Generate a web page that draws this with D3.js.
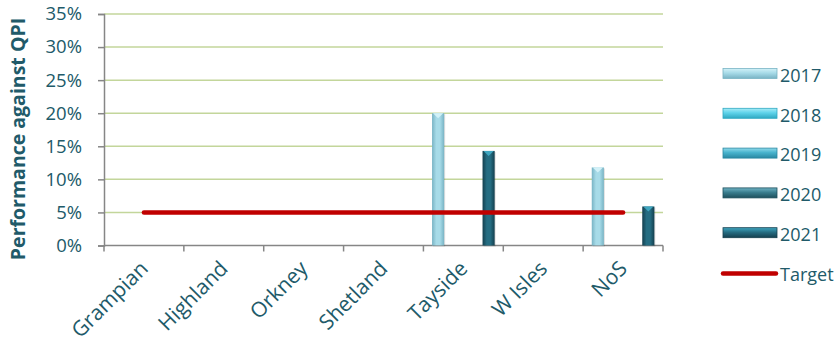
<!DOCTYPE html>
<html>
<head>
<meta charset="utf-8">
<script src="https://cdn.jsdelivr.net/npm/d3@7"></script>
<style>
  html, body { margin: 0; padding: 0; background: #ffffff; }
  svg { display: block; }
  text { font-family: "Open Sans", "DejaVu Sans", sans-serif; fill: #215a69; }
</style>
</head>
<body>
<svg id="chart" width="837" height="345"></svg>
<script>
// Boards and years shown on the chart
const categories = ["Grampian", "Highland", "Orkney", "Shetland", "Tayside", "W Isles", "NoS"];
const years = ["2017", "2018", "2019", "2020", "2021"];

// Performance against the QPI (%), one array per year; null = no value
const values2017 = [null, null, null, null, 20.0, null, 11.8];
const values2018 = [null, null, null, null, null, null, null];
const values2019 = [null, null, null, null, null, null, null];
const values2020 = [null, null, null, null, null, null, null];
const values2021 = [null, null, null, null, 14.3, null, 5.9];
const targetValue = 5;

const yTicks = [0, 5, 10, 15, 20, 25, 30, 35];
const yTitle = "Performance against QPI";
const targetLabel = "Target";

const seriesValues = [values2017, values2018, values2019, values2020, values2021];

// Bar fill colours per year: [edge, centre, top highlight]
const barColours = {
  "2017": ["#78b3c4", "#a7dbe8", "#d2f1f8"],
  "2018": ["#2fa8c2", "#5fd3ea", "#a8ecf7"],
  "2019": ["#2a88a2", "#48b3cd", "#8fdaeb"],
  "2020": ["#1d4f5c", "#3a7d8e", "#6fb3c4"],
  "2021": ["#143f4e", "#256d82", "#3fa6c0"]
};

const svg = d3.select("#chart");
const defs = svg.append("defs");

const margin = { left: 104, right: 663, top: 14, bottom: 245.5 };

const x0 = d3.scaleBand().domain(categories).range([margin.left, margin.right]).padding(0);
const bw = x0.bandwidth();
const x1 = d3.scaleBand().domain(years).range([bw * 0.108, bw * 0.892]).paddingInner(0.04);
const y = d3.scaleLinear().domain([0, 35]).range([margin.bottom, margin.top]);

// Gradients for the bars (horizontal shading) and legend swatches (vertical)
years.forEach(yr => {
  const c = barColours[yr];
  const g = defs.append("linearGradient").attr("id", "bar" + yr)
    .attr("x1", "0%").attr("x2", "100%").attr("y1", "0%").attr("y2", "0%");
  g.append("stop").attr("offset", "0%").attr("stop-color", c[0]);
  g.append("stop").attr("offset", "35%").attr("stop-color", c[1]);
  g.append("stop").attr("offset", "65%").attr("stop-color", c[1]);
  g.append("stop").attr("offset", "100%").attr("stop-color", c[0]);
  const s = defs.append("linearGradient").attr("id", "sw" + yr)
    .attr("x1", "0%").attr("x2", "0%").attr("y1", "0%").attr("y2", "100%");
  s.append("stop").attr("offset", "0%").attr("stop-color", c[2]);
  s.append("stop").attr("offset", "45%").attr("stop-color", c[1]);
  s.append("stop").attr("offset", "100%").attr("stop-color", c[0]);
});

// Gridlines
svg.append("g").selectAll("line")
  .data(yTicks.filter(d => d > 0))
  .join("line")
  .attr("x1", margin.left).attr("x2", margin.right)
  .attr("y1", d => y(d)).attr("y2", d => y(d))
  .attr("stroke", "#c3d69b").attr("stroke-width", 1.5);

// Y axis
const yAxis = svg.append("g")
  .attr("transform", `translate(${margin.left},0)`)
  .call(d3.axisLeft(y).tickValues(yTicks).tickFormat(d => d + "%").tickSize(6).tickPadding(16));
yAxis.select(".domain").attr("stroke", "#868686").attr("stroke-width", 1.5);
yAxis.selectAll(".tick line").attr("stroke", "#868686").attr("stroke-width", 1.5);
yAxis.selectAll(".tick text").attr("font-size", 18.5).attr("fill", "#215a69")
  .style("font-family", "'Open Sans', sans-serif");

// X axis with ticks at category boundaries
const xAxisG = svg.append("g").attr("transform", `translate(0,${margin.bottom})`);
xAxisG.append("line")
  .attr("x1", margin.left).attr("x2", margin.right)
  .attr("stroke", "#868686").attr("stroke-width", 1.5);
const boundaries = categories.map(c => x0(c)).concat([x0(categories[categories.length - 1]) + bw]);
xAxisG.selectAll(".bt").data(boundaries).join("line").attr("class", "bt")
  .attr("x1", d => d).attr("x2", d => d).attr("y1", 0).attr("y2", 6)
  .attr("stroke", "#868686").attr("stroke-width", 1.5);
xAxisG.selectAll(".cl").data(categories).join("text").attr("class", "cl")
  .attr("transform", d => `translate(${x0(d) + bw / 2 - 5},${14}) rotate(-45)`)
  .attr("text-anchor", "end")
  .attr("dy", "0.7em")
  .attr("font-size", 21)
  .text(d => d);

// Bars
const barData = [];
years.forEach((yr, i) => {
  seriesValues[i].forEach((v, j) => {
    if (v !== null) barData.push({ year: yr, cat: categories[j], value: v });
  });
});
const bars = svg.append("g").selectAll("g").data(barData).join("g");
bars.append("rect")
  .attr("x", d => x0(d.cat) + x1(d.year) + 1)
  .attr("y", d => y(d.value) + 1)
  .attr("width", x1.bandwidth())
  .attr("height", d => y(0) - y(d.value))
  .attr("fill", "#000").attr("opacity", 0.12);
bars.append("rect")
  .attr("x", d => x0(d.cat) + x1(d.year))
  .attr("y", d => y(d.value))
  .attr("width", x1.bandwidth())
  .attr("height", d => y(0) - y(d.value))
  .attr("fill", d => `url(#bar${d.year})`);
bars.append("path")
  .attr("d", d => {
    const xl = x0(d.cat) + x1(d.year), w = x1.bandwidth(), t = y(d.value);
    return `M${xl + 1},${t} L${xl + w - 1},${t} L${xl + w / 2},${t + 5} Z`;
  })
  .attr("fill", d => barColours[d.year][2]);

// Target line across category centres
const line = d3.line().x(d => x0(d) + bw / 2).y(() => y(targetValue));
svg.append("path")
  .datum(categories)
  .attr("d", line)
  .attr("fill", "none")
  .attr("stroke", "#c00000")
  .attr("stroke-width", 4.5)
  .attr("stroke-linecap", "round");

// Y axis title
svg.append("text")
  .attr("transform", `translate(25,${139}) rotate(-90)`)
  .attr("text-anchor", "middle")
  .attr("font-size", 19.5)
  .attr("font-weight", "bold")
  .text(yTitle);

// Legend
const legendItems = years.map(yr => ({ label: yr, type: "bar" }))
  .concat([{ label: targetLabel, type: "line" }]);
const lg = svg.append("g").selectAll("g").data(legendItems).join("g")
  .attr("transform", (d, i) => `translate(723,${75.5 + i * 39.8})`);
lg.filter(d => d.type === "bar").append("rect")
  .attr("x", 0).attr("y", -7).attr("width", 54).attr("height", 10)
  .attr("fill", d => `url(#sw${d.label})`)
  .attr("stroke", d => barColours[d.label][0]).attr("stroke-width", 0.8);
lg.filter(d => d.type === "line").append("line")
  .attr("x1", 0).attr("x2", 53).attr("y1", -1).attr("y2", -1)
  .attr("stroke", "#c00000").attr("stroke-width", 4.5).attr("stroke-linecap", "round");
lg.append("text")
  .attr("x", 57).attr("y", 0).attr("dy", "0.35em")
  .attr("font-size", 18)
  .text(d => d.label);
</script>
</body>
</html>
